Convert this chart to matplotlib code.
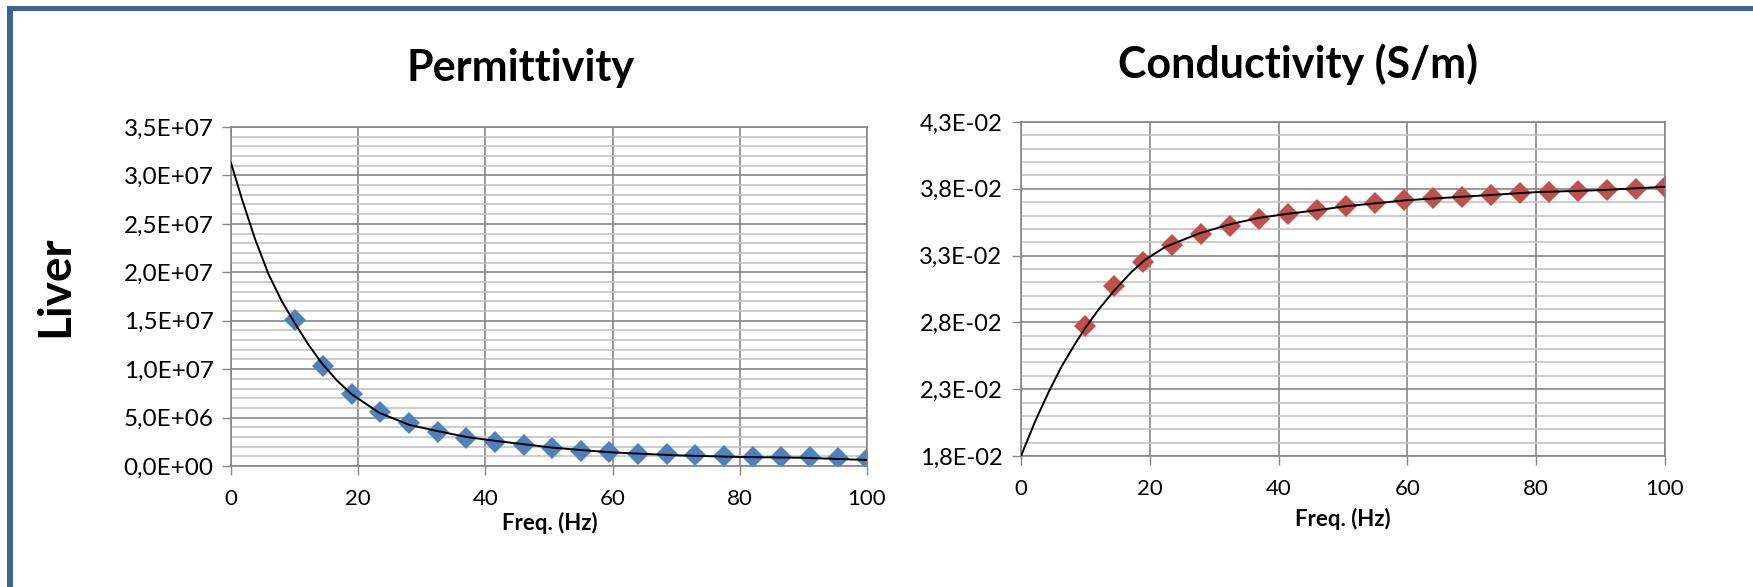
import matplotlib
matplotlib.use("Agg")
import matplotlib.pyplot as plt
from matplotlib.patches import Rectangle
from matplotlib.ticker import FixedLocator, MultipleLocator

plt.rcParams['font.family'] = ['Lato', 'DejaVu Sans']

# measured points (same frequencies for both charts)
freq = [10, 14.5, 19, 23.5, 28, 32.5, 37, 41.5, 46, 50.5, 55,
        59.5, 64, 68.5, 73, 77.5, 82, 86.5, 91, 95.5, 100]
permittivity = [1.51e7, 1.03e7, 7.4e6, 5.6e6, 4.4e6, 3.5e6, 2.9e6, 2.5e6,
                2.2e6, 1.85e6, 1.6e6, 1.45e6, 1.25e6, 1.2e6, 1.1e6, 1.0e6,
                0.95e6, 0.93e6, 0.88e6, 0.8e6, 0.7e6]
conductivity = [0.02770, 0.03075, 0.03255, 0.03380, 0.03465, 0.03525, 0.03575,
                0.03612, 0.03645, 0.03668, 0.03695, 0.03715, 0.03730, 0.03742,
                0.03752, 0.03765, 0.03775, 0.03780, 0.03790, 0.03795, 0.03810]

# trend lines
perm_trend_x = [0, 1.7, 3.8, 5.9, 8, 9.8, 12.2, 14.3, 16.7, 19, 23.3, 28,
                32.5, 37, 41.5, 46, 50.5, 55, 60, 70, 80, 90, 100]
perm_trend_y = [31.3e6, 27.6e6, 23.4e6, 19.8e6, 17.0e6, 15.0e6, 12.5e6,
                10.6e6, 8.8e6, 7.4e6, 5.5e6, 4.25e6, 3.6e6, 3.0e6, 2.6e6,
                2.25e6, 1.9e6, 1.65e6, 1.4e6, 1.1e6, 0.93e6, 0.85e6, 0.62e6]
cond_trend_x = [0, 2.2, 4.3, 6.3, 8.4, 10, 12.1, 14.6, 17.2, 19.3, 22.4, 27.6,
                32.5, 37, 41.5, 46, 50.5, 60, 70, 80, 90, 100]
cond_trend_y = [0.0180, 0.0206, 0.0228, 0.0247, 0.0264, 0.0276, 0.0290,
                0.03045, 0.0318, 0.0327, 0.03365, 0.03465, 0.03535, 0.03583,
                0.03613, 0.0364, 0.0367, 0.03715, 0.03745, 0.03775, 0.0379,
                0.03815]

x_ticks = [0, 20, 40, 60, 80, 100]
perm_ticks = [0, 5e6, 1e7, 1.5e7, 2e7, 2.5e7, 3e7, 3.5e7]
perm_labels = ['0,0E+00', '5,0E+06', '1,0E+07', '1,5E+07', '2,0E+07',
               '2,5E+07', '3,0E+07', '3,5E+07']
cond_ticks = [0.018, 0.023, 0.028, 0.033, 0.038, 0.043]
cond_labels = ['1,8E-02', '2,3E-02', '2,8E-02', '3,3E-02', '3,8E-02', '4,3E-02']

W, H = 1753, 587
fig = plt.figure(figsize=(W / 100, H / 100), dpi=100)

axis_grey = '#868686'


def px_rect(x0, y0, x1, y1):
    return [x0 / W, 1 - y1 / H, (x1 - x0) / W, (y1 - y0) / H]


def style(ax, yticks, ylabels, minor, ysize, ypad):
    ax.set_xlim(0, 100)
    ax.xaxis.set_major_locator(FixedLocator(x_ticks))
    ax.set_xticklabels([str(t) for t in x_ticks])
    ax.set_ylim(yticks[0], yticks[-1])
    ax.yaxis.set_major_locator(FixedLocator(yticks))
    ax.set_yticklabels(ylabels)
    ax.yaxis.set_minor_locator(MultipleLocator(minor))
    ax.grid(which='major', color=axis_grey, lw=1.2)
    ax.grid(which='minor', axis='y', color='#c4c4c4', lw=1.2)
    ax.set_axisbelow(True)
    for s in ax.spines.values():
        s.set_color(axis_grey)
        s.set_linewidth(1.2)
    ax.tick_params(which='major', direction='out', length=6.5, width=1,
                   color=axis_grey)
    ax.tick_params(which='minor', length=0)
    ax.tick_params(axis='x', labelsize=16, pad=10)
    ax.tick_params(axis='y', labelsize=ysize, pad=ypad)


ax1 = fig.add_axes(px_rect(231, 127, 867, 466))
ax1.plot(freq, permittivity, 'D', color='#4F81BD', ms=11.5, mew=0, zorder=2)
ax1.plot(perm_trend_x, perm_trend_y, color='black', lw=1.4, zorder=3)
style(ax1, perm_ticks, perm_labels, 1e6, 17.5, 6)

ax2 = fig.add_axes(px_rect(1021, 122, 1665, 456))
ax2.plot(freq, conductivity, 'D', color='#C0504D', ms=11.5, mew=0, zorder=2)
ax2.plot(cond_trend_x, cond_trend_y, color='black', lw=1.4, zorder=3)
style(ax2, cond_ticks, cond_labels, 0.001, 17, 7)

fig.text(521 / W, 1 - 81 / H, 'Permittivity', ha='center', va='baseline',
         fontsize=31, fontweight='bold')
fig.text(1298 / W, 1 - 78 / H, 'Conductivity (S/m)', ha='center',
         va='baseline', fontsize=31, fontweight='bold')
fig.text(550 / W, 1 - 530 / H, 'Freq. (Hz)', ha='center', va='baseline',
         fontsize=16, fontweight='bold')
fig.text(1343 / W, 1 - 526 / H, 'Freq. (Hz)', ha='center', va='baseline',
         fontsize=16, fontweight='bold')
fig.text(68 / W, 1 - 286.5 / H, 'Liver', rotation=90, rotation_mode='anchor',
         ha='center', va='baseline', fontsize=33, fontweight='bold')

# blue frame on the top and left edges
frame = '#3D6293'
fig.add_artist(Rectangle((7 / W, 0), 5.5 / W, 1 - 6 / H,
                         transform=fig.transFigure, color=frame, lw=0))
fig.add_artist(Rectangle((7 / W, 1 - 11 / H), 1 - 7 / W, 5 / H,
                         transform=fig.transFigure, color=frame, lw=0))

fig.savefig('out.png', dpi=100)
